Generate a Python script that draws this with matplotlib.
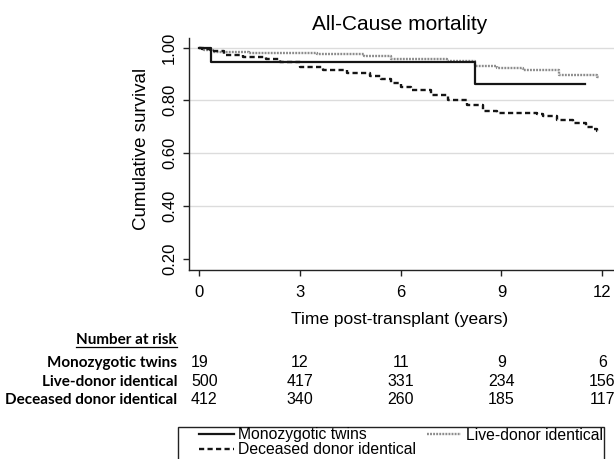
import matplotlib
matplotlib.use("Agg")
import matplotlib.pyplot as plt
from matplotlib.lines import Line2D
from matplotlib.patches import Rectangle
import matplotlib.transforms as mtransforms

plt.rcParams['font.family'] = ['Liberation Sans', 'DejaVu Sans']

# ---------------- data ----------------
title = "All-Cause mortality"
xlabel = "Time post-transplant (years)"
ylabel = "Cumulative survival"
x_ticks = [0, 3, 6, 9, 12]
y_ticks = [0.20, 0.40, 0.60, 0.80, 1.00]
grid_levels = [0.40, 0.60, 0.80, 1.00]

series_names = ["Monozygotic twins", "Live-donor identical", "Deceased donor identical"]

mono_t = [0, 0.35, 8.21, 11.49]
mono_s = [1.0, 0.945, 0.861, 0.861]

live_t = [0, 0.15, 0.4, 1.5, 3.5, 4.9, 5.7, 7.37, 8.21, 8.86, 9.65, 10.7, 11.84, 11.9]
live_s = [1.0, 0.990, 0.983, 0.981, 0.975, 0.967, 0.957, 0.950, 0.931, 0.924, 0.915, 0.895, 0.888, 0.888]

dec_t = [0, 0.1, 0.33, 0.73, 1.3, 2.0, 2.4, 3.0, 3.7, 4.4, 5.1, 5.4, 5.7, 6.0, 6.3, 6.9,
         7.4, 7.96, 8.46, 8.86, 10.05, 10.25, 10.64, 11.13, 11.53, 11.73, 11.84, 11.9]
dec_s = [1.0, 0.993, 0.985, 0.972, 0.965, 0.958, 0.946, 0.927, 0.915, 0.902, 0.893, 0.880,
         0.865, 0.852, 0.839, 0.820, 0.800, 0.783, 0.761, 0.753, 0.748, 0.741, 0.726, 0.716,
         0.698, 0.690, 0.685, 0.685]

risk_title = "Number at risk"
risk_times = [0, 3, 6, 9, 12]
risk_mono = [19, 12, 11, 9, 6]
risk_live = [500, 417, 331, 234, 156]
risk_dec = [412, 340, 260, 185, 117]
risk_labels = ["Monozygotic twins", "Live-donor identical", "Deceased donor identical"]

# ---------------- figure ----------------
W, H = 614, 459
fig = plt.figure(figsize=(W / 100, H / 100), dpi=100)

def fx(px):
    return px / W

def fy(py):
    return 1 - py / H

ax = fig.add_axes([fx(189), fy(270), fx(614 - 189), (270 - 38) / H])
ax.set_xlim(-0.30, 12.35)
ax.set_ylim(0.158, 1.036)

for g in grid_levels:
    ax.axhline(g, color='#dcdcdc', lw=1.0, zorder=0)

l_mono, = ax.step(mono_t, mono_s, where='post', color='#151515', lw=1.6, zorder=3)
l_live, = ax.step(live_t, live_s, where='post', color='#8c8c8c', lw=1.7,
                  linestyle=(0, (0.8, 0.5)), zorder=2)
l_dec, = ax.step(dec_t, dec_s, where='post', color='#151515', lw=1.7,
                 linestyle=(0, (2.2, 1.4)), zorder=2)

for s in ['top', 'right']:
    ax.spines[s].set_visible(False)
for s in ['left', 'bottom']:
    ax.spines[s].set_linewidth(1.0)
    ax.spines[s].set_color('#222222')

ax.set_xticks(x_ticks)
ax.set_xticklabels([str(v) for v in x_ticks], fontsize=12)
ax.set_yticks(y_ticks)
ax.set_yticklabels(["%.2f" % v for v in y_ticks], fontsize=12, rotation=90, va='center')
ax.tick_params(axis='both', direction='out', length=4.5, width=1.0, color='#222222')
ax.tick_params(axis='x', pad=6)
ax.tick_params(axis='y', pad=4)

fig.text(fx(400), fy(30), title, ha='center', va='baseline', fontsize=15)
fig.text(fx(400), fy(324), xlabel, ha='center', va='baseline', fontsize=12.5)
fig.text(fx(142), fy(149), ylabel, ha='center', va='center', rotation=90, fontsize=13.5)

# ---------------- number at risk table ----------------
lab_font = ['Lato', 'DejaVu Sans']
num_font = ['Liberation Sans', 'DejaVu Sans']
t_title = fig.text(fx(177), fy(344), risk_title, ha='right', va='baseline',
                   fontsize=11, fontweight='bold', family=lab_font)
row_base = [367, 385.5, 404]
blend = mtransforms.blended_transform_factory(ax.transData, fig.transFigure)
for lab, vals, yb in zip(risk_labels, [risk_mono, risk_live, risk_dec], row_base):
    fig.text(fx(177), fy(yb), lab, ha='right', va='baseline', fontsize=11,
             fontweight='bold', family=lab_font)
    for i, (t, v) in enumerate(zip(risk_times, vals)):
        if i == 0:
            fig.text(fx(191), fy(yb), str(v), ha='left', va='baseline',
                     fontsize=11.5, family=num_font)
        else:
            ax.text(t, fy(yb), str(v), ha='center', va='baseline', fontsize=11.5,
                    family=num_font, transform=blend, clip_on=False)

# ---------------- legend ----------------
frame = Rectangle((fx(178), fy(470)), fx(604 - 178), (470 - 427) / H,
                  transform=fig.transFigure, facecolor='white', edgecolor='#222222',
                  lw=1.0, clip_on=False, zorder=1)
fig.add_artist(frame)
leg = fig.legend([l_mono, l_dec, l_live],
                 [series_names[0], series_names[2], series_names[1]],
                 ncol=2, loc='upper left',
                 bbox_to_anchor=(fx(199), fy(427.5), fx(603 - 199), 0),
                 mode='expand', frameon=False, fontsize=11.3,
                 handlelength=2.2, handletextpad=0.3, labelspacing=0.0,
                 borderpad=0, borderaxespad=0, columnspacing=0.6)
leg.set_zorder(2)

# underline for "Number at risk"
fig.canvas.draw()
r = fig.canvas.get_renderer()
bb = t_title.get_window_extent(r)
inv = fig.transFigure.inverted()
(x0, y0), (x1, _) = inv.transform([(bb.x0, bb.y0), (bb.x1, bb.y0)])
fig.add_artist(Line2D([x0, x1], [fy(346.5), fy(346.5)], transform=fig.transFigure,
                      color='black', lw=0.9))

fig.savefig("out.png", dpi=100)
